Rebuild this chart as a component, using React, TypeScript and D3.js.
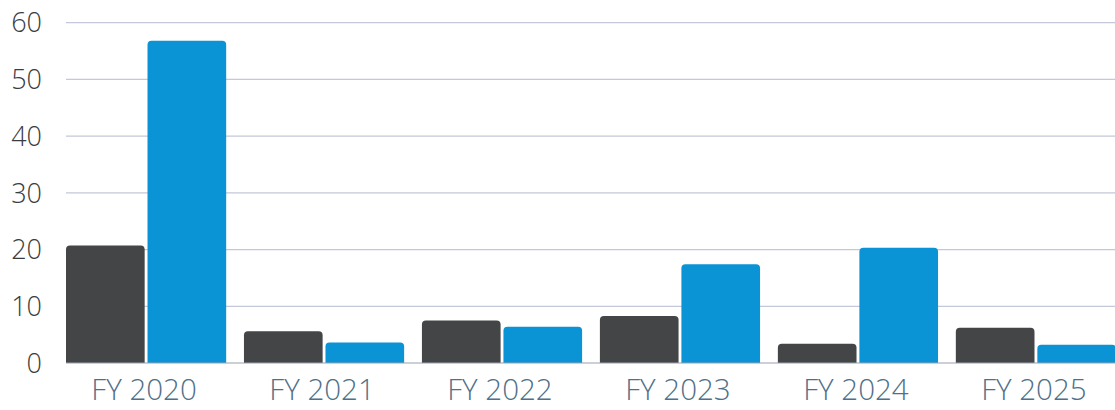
import React from "react";
import * as d3 from "d3";

const categories = ["FY 2020", "FY 2021", "FY 2022", "FY 2023", "FY 2024", "FY 2025"];
const seriesNames = ["dark", "blue"];
const darkValues = [20.7, 5.6, 7.5, 8.3, 3.4, 6.2];
const blueValues = [56.8, 3.6, 6.4, 17.4, 20.3, 3.2];
const yTicks = [0, 10, 20, 30, 40, 50, 60];
const seriesColors = ["#434546", "#0a94d6"];

const W = 1115;
const H = 410;

export default function App() {
  const x = d3.scaleBand<string>().domain(categories).range([66, 1116]).paddingInner(0.1).paddingOuter(0);
  const x1 = d3.scaleBand<string>().domain(seriesNames).range([0, x.bandwidth()]).paddingInner(0.035);
  const y = d3.scaleLinear().domain([0, 60]).range([363, 22.7]);
  const values = [darkValues, blueValues];

  return (
    <svg width={W} height={H} style={{ position: "absolute", left: 0, top: 0, background: "#fff" }}>
      {yTicks.map((t) => (
        <g key={t}>
          {t > 0 && (
            <line x1={66} x2={W} y1={y(t)} y2={y(t)} stroke="#c3c8da" strokeWidth={1.3} />
          )}
          <text
            x={42}
            y={y(t)}
            dy="0.36em"
            textAnchor="end"
            fontFamily="'Open Sans', sans-serif"
            fontWeight={300}
            fontSize={27}
            fill="#3a3d40"
          >
            {t}
          </text>
        </g>
      ))}
      {categories.map((c, i) => (
        <g key={c}>
          {seriesNames.map((s, j) => {
            const v = values[j][i];
            const bx = (x(c) ?? 0) + (x1(s) ?? 0);
            const top = y(v);
            const h = y(0) - top;
            const w = x1.bandwidth();
            const r = 4;
            const path = `M${bx},${y(0)} V${top + r} Q${bx},${top} ${bx + r},${top} H${bx + w - r} Q${bx + w},${top} ${bx + w},${top + r} V${y(0)} Z`;
            return <path key={s} d={h > 0 ? path : ""} fill={seriesColors[j]} />;
          })}
        </g>
      ))}
      <line x1={66} x2={W} y1={y(0)} y2={y(0)} stroke="#9aa0ad" strokeWidth={1.2} />
      {categories.map((c) => (
        <text
          key={c}
          x={(x(c) ?? 0) + x.bandwidth() / 2 - 2}
          y={400}
          textAnchor="middle"
          fontFamily="'Open Sans', sans-serif"
          fontWeight={300}
          fontSize={29.5}
          fill="#4f7089"
        >
          {c}
        </text>
      ))}
    </svg>
  );
}
